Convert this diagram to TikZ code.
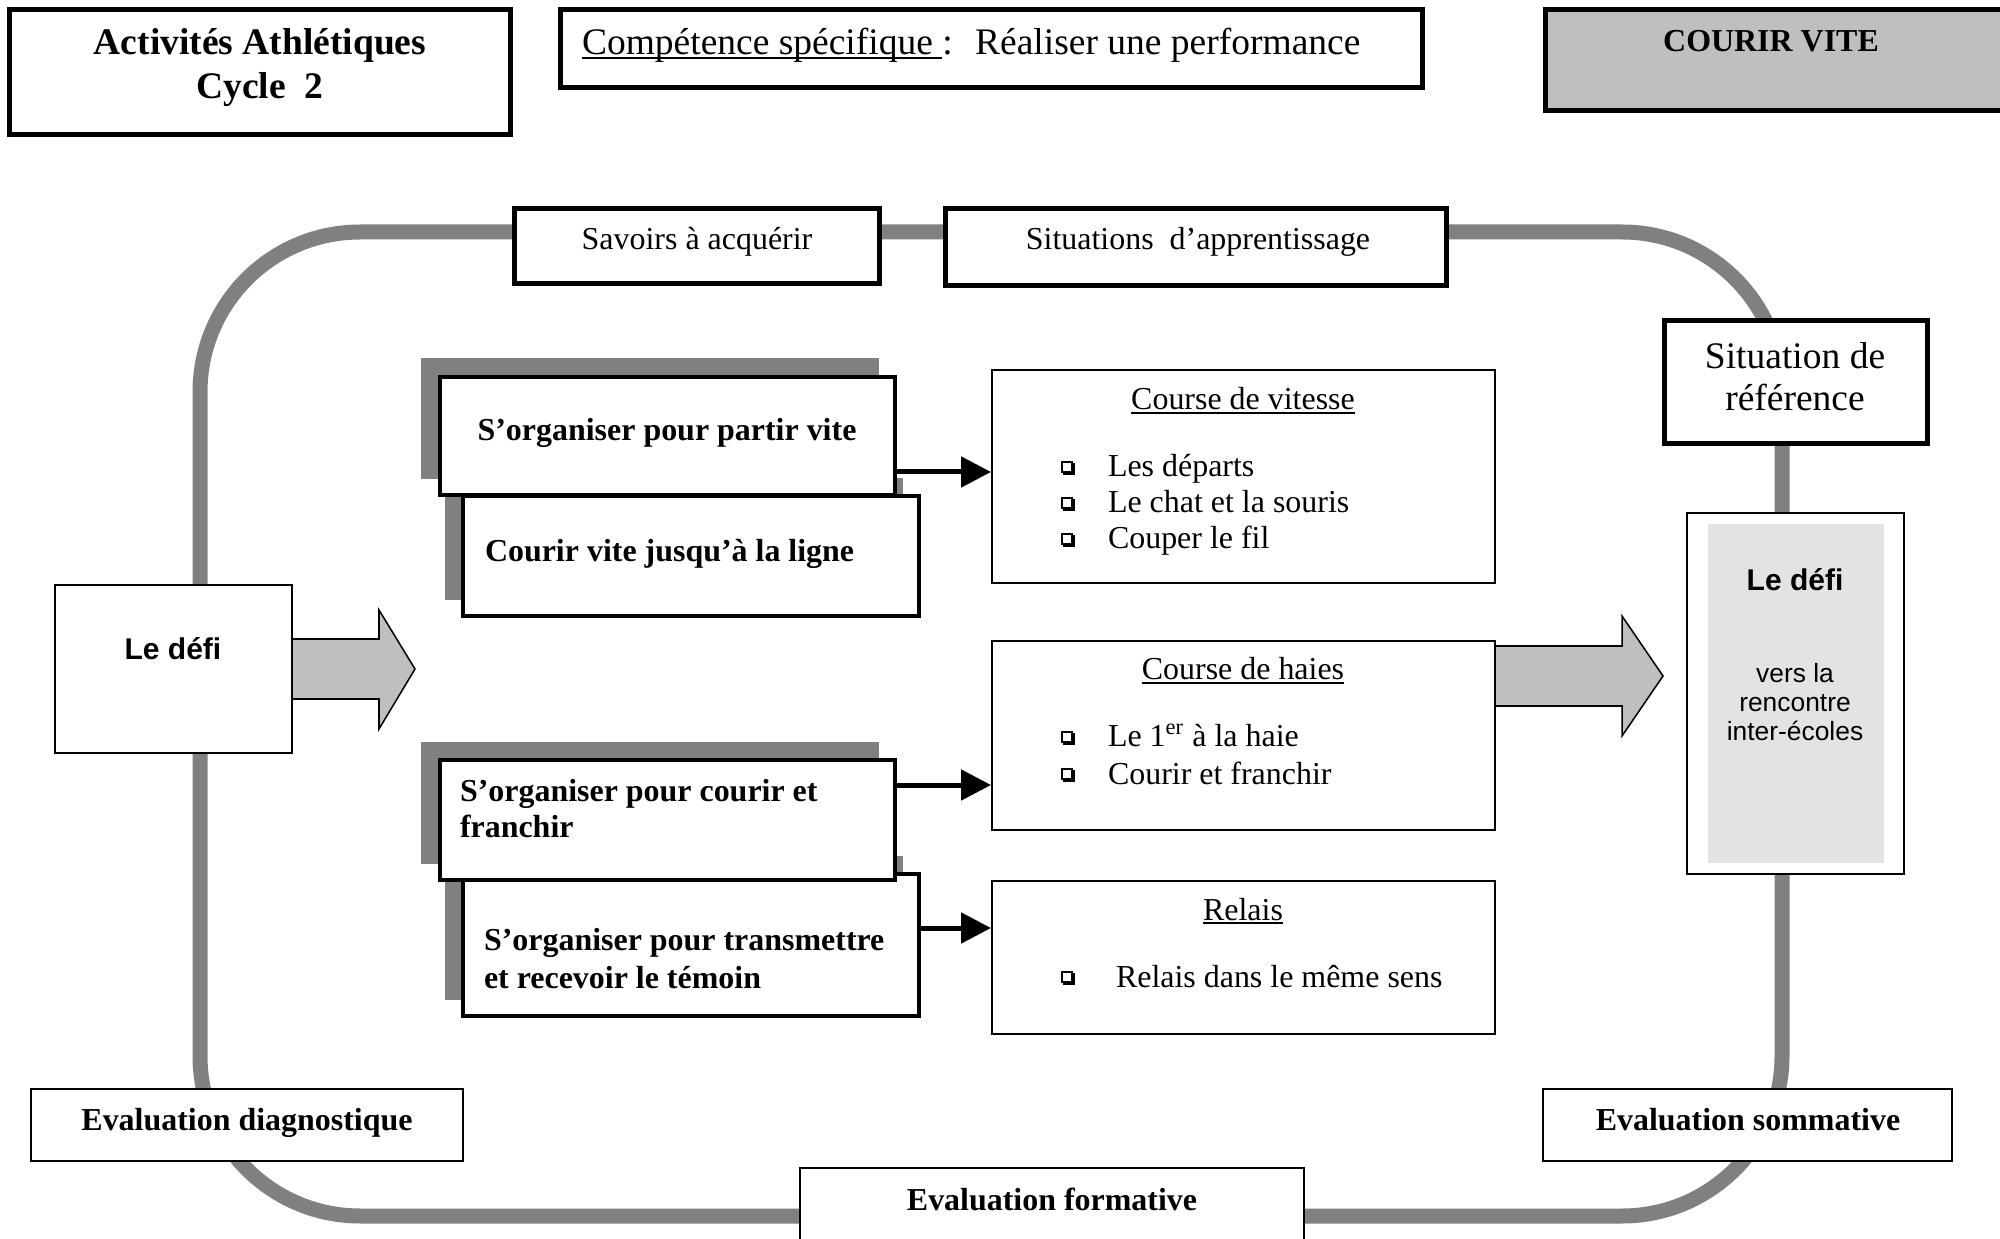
\documentclass[tikz,border=0pt]{standalone}
\usepackage{fontspec}
\setmainfont{Liberation Serif}
\setsansfont{Liberation Sans}
\usetikzlibrary{fit,arrows.meta}
\newsavebox\myulbox
\newcommand\myul[1]{\sbox\myulbox{#1}\rlap{\rule[-0.12em]{\wd\myulbox}{0.055em}}\usebox\myulbox}
\tikzset{
  loopline/.style={draw=black!50,line width=5.4pt},
  thickbox/.style={draw,line width=1.8pt,fill=white,inner sep=0pt,rectangle},
  shadbox/.style={draw,line width=1.1pt,fill=white,inner sep=0pt,rectangle},
  shadfill/.style={fill=black!50,draw=none,inner sep=0pt,rectangle},
  thinbox/.style={draw,line width=0.7pt,fill=white,inner sep=0pt,rectangle},
  hairbox/.style={draw,line width=0.55pt,fill=white,inner sep=0pt,rectangle},
  txt/.style={inner sep=0pt,outer sep=0pt},
  fbig/.style={font=\fontsize{13.5pt}{16pt}\selectfont},
  fbigb/.style={font=\fontsize{13.5pt}{16pt}\selectfont\bfseries},
  fmid/.style={font=\fontsize{11.5pt}{13.5pt}\selectfont},
  fmidb/.style={font=\fontsize{11.5pt}{13.5pt}\selectfont\bfseries},
  fdefi/.style={font=\fontsize{10.8pt}{12pt}\selectfont\sffamily\bfseries},
  fsmall/.style={font=\fontsize{9.5pt}{10.5pt}\selectfont\sffamily},
  blk/.style={line width=1.8pt,-{Triangle[length=10.8pt,width=10.8pt]}},
  bigarrow/.style={fill=black!25,draw,line width=0.55pt,line join=miter},
  sqbul/.pic={\draw[line width=0.5pt] (0,0) rectangle (10,10);
              \fill (1,9.5) rectangle (13,13);
              \fill (9.5,1) rectangle (13,13);}
}
\begin{document}
\begin{tikzpicture}[x=0.36pt,y=-0.36pt]
\useasboundingbox (0,0) rectangle (2000,1239);
% cycle loop
\draw[loopline,rounded corners=57.6pt] (200,232) rectangle (1782,1216);

% header boxes
\node[thickbox,fit={(9,10) (510,135)}] (title) {};
\node[txt,fbigb,anchor=base] (title1) at (260,55) {Activités Athlétiques};
\node[txt,fbigb,anchor=base] (title2) at (260,99) {Cycle\ \ 2};

\node[thickbox,fit={(560,10) (1422,88)}] (comp) {};
\node[txt,fbig,anchor=base west] (comptxt) at (582,55) {\myul{Compétence spécifique }:\hspace{0.6em}Réaliser une performance};

\node[thickbox,fill=black!25,fit={(1545,10) (2010,111)}] (courir) {};
\node[txt,fmidb,anchor=base] (courirtxt) at (1771,52) {COURIR VITE};

\node[thickbox,fit={(514,209) (879,284)}] (sav) {};
\node[txt,fmid,anchor=base] (savtxt) at (697,250) {Savoirs à acquérir};

\node[thickbox,fit={(945,209) (1446,286)}] (sit) {};
\node[txt,fmid,anchor=base] (sittxt) at (1198,250) {Situations\ \ d’apprentissage};

\node[thickbox,fit={(1664,321) (1927,444)}] (ref) {};
\node[txt,fbig,anchor=base] (ref1) at (1795,369) {Situation de};
\node[txt,fbig,anchor=base] (ref2) at (1795,411) {référence};

% right defi
\node[hairbox,fit={(1687,513) (1904,874)}] (defiR) {};
\fill[black!11] (1708,524) rectangle (1884,863);
\node[txt,fdefi,anchor=base] (defiR1) at (1795,591) {Le défi};
\node[txt,fsmall,anchor=base] (defiR2) at (1795,683) {vers la};
\node[txt,fsmall,anchor=base] (defiR3) at (1795,712) {rencontre};
\node[txt,fsmall,anchor=base] (defiR4) at (1795,741) {inter-écoles};

% left defi
\node[hairbox,fit={(55,585) (292,753)}] (defiL) {};
\node[txt,fdefi,anchor=base] (defiL1) at (173,660) {Le défi};
\draw[bigarrow] (292,639) -- (379,639) -- (379,610) -- (415,669) -- (379,729) -- (379,699) -- (292,699) -- cycle;

% evaluation boxes
\node[hairbox,fit={(31,1089) (463,1161)}] (evd) {};
\node[txt,fmidb,anchor=base] (evdtxt) at (247,1130) {Evaluation diagnostique};
\node[hairbox,fit={(1543,1089) (1952,1161)}] (evs) {};
\node[txt,fmidb,anchor=base] (evstxt) at (1748,1130) {Evaluation sommative};
\node[hairbox,fit={(800,1168) (1304,1250)}] (evf) {};
\node[txt,fmidb,anchor=base] (evftxt) at (1052,1210) {Evaluation formative};

% right activity boxes
\draw[bigarrow] (1495,646) -- (1622,646) -- (1622,616) -- (1663,676) -- (1622,736) -- (1622,706) -- (1495,706) -- cycle;

\node[thinbox,fit={(992,370) (1495,583)}] (vit) {};
\node[txt,fmid,anchor=base] (vitt) at (1243,410) {\myul{Course de vitesse}};
\pic at (1062,462) {sqbul};
\node[txt,fmid,anchor=base west] (vit1) at (1108,477) {Les départs};
\pic at (1062,498) {sqbul};
\node[txt,fmid,anchor=base west] (vit2) at (1108,513) {Le chat et la souris};
\pic at (1062,534) {sqbul};
\node[txt,fmid,anchor=base west] (vit3) at (1108,549) {Couper le fil};

\node[thinbox,fit={(992,641) (1495,830)}] (hai) {};
\node[txt,fmid,anchor=base] (hait) at (1243,680) {\myul{Course de haies}};
\pic at (1062,732) {sqbul};
\node[txt,fmid,anchor=base west] (hai1) at (1108,747) {Le 1\textsuperscript{er} à la haie};
\pic at (1062,769) {sqbul};
\node[txt,fmid,anchor=base west] (hai2) at (1108,784) {Courir et franchir};

\node[thinbox,fit={(992,881) (1495,1034)}] (rel) {};
\node[txt,fmid,anchor=base] (relt) at (1243,920) {\myul{Relais}};
\pic at (1062,972) {sqbul};
\node[txt,fmid,anchor=base west] (rel1) at (1116,987) {Relais dans le même sens};

% shadowed boxes
\fill[black!50] (421,358) rectangle (879,479);
\fill[black!50] (445,478) rectangle (903,600);
\fill[black!50] (421,742) rectangle (879,864);
\fill[black!50] (445,856) rectangle (903,1000);

\node[shadbox,fit={(463,874) (919,1016)}] (D) {};
\node[txt,fmidb,anchor=base west] (D1) at (484,950) {S’organiser pour transmettre};
\node[txt,fmidb,anchor=base west] (D2) at (484,988) {et recevoir le témoin};

\node[shadbox,fit={(440,760) (895,880)}] (C) {};
\node[txt,fmidb,anchor=base west] (C1) at (460,801) {S’organiser pour courir et};
\node[txt,fmidb,anchor=base west] (C2) at (460,837) {franchir};

\node[shadbox,fit={(463,496) (919,616)}] (B) {};
\node[txt,fmidb,anchor=base west] (B1) at (485,562) {Courir vite jusqu’à la ligne};

\node[shadbox,fit={(440,377) (895,495)}] (A) {};
\node[txt,fmidb,anchor=base] (A1) at (667,441) {S’organiser pour partir vite};

% arrows
\coordinate (a1) at (0,472);
\coordinate (a2) at (0,785);
\coordinate (a3) at (0,928);
\draw[blk] (A.east |- a1) -- (vit.west |- a1);
\draw[blk] (C.east |- a2) -- (hai.west |- a2);
\draw[blk] (D.east |- a3) -- (rel.west |- a3);
\end{tikzpicture}
\end{document}
